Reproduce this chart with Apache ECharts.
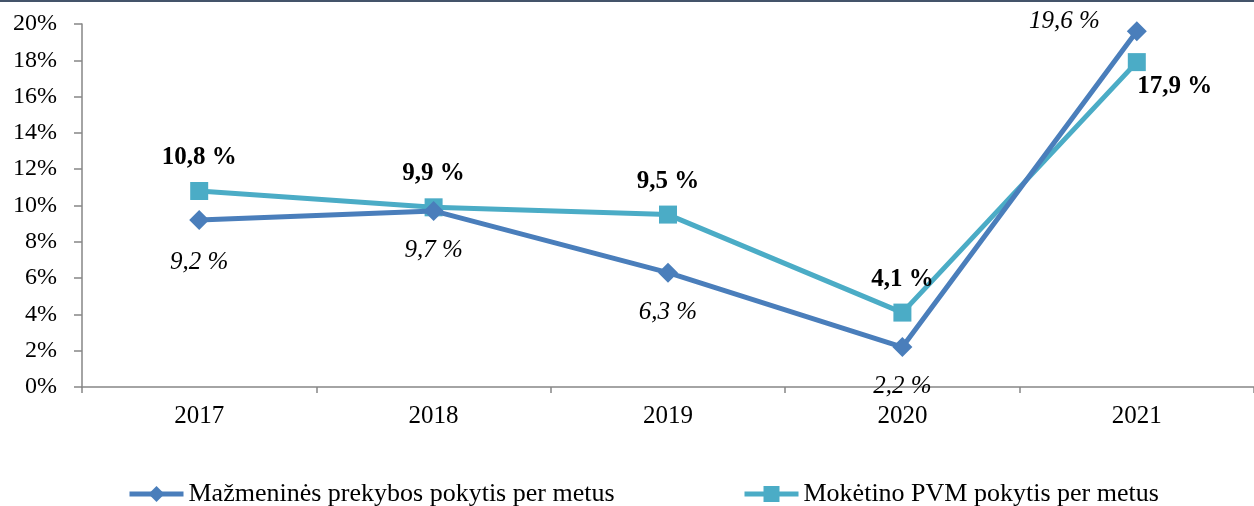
<!DOCTYPE html>
<html><head><meta charset="utf-8">
<script src="https://cdn.jsdelivr.net/npm/echarts@6/dist/echarts.min.js"></script>
<style>html,body{margin:0;padding:0;background:#fff}#c{width:1254px;height:506px}</style>
</head><body><div id="c"></div>
<script>
const categories = ['2017','2018','2019','2020','2021'];
const retailName = 'Mažmeninės prekybos pokytis per metus';
const vatName = 'Mokėtino PVM pokytis per metus';
const retailValues = [9.2, 9.7, 6.3, 2.2, 19.6];
const vatValues = [10.8, 9.9, 9.5, 4.1, 17.9];
const yTicks = [0, 2, 4, 6, 8, 10, 12, 14, 16, 18, 20];

const FONT = '"Liberation Serif", "Times New Roman", serif';
const fmt = v => String(v).replace('.', ',') + ' %';

// label placement overrides (layout only)
const retailLabelPos = [{distance: 20}, {}, {}, {}, {position: 'left', distance: 27, offset: [0, -10]}];
const vatLabelPos = [{}, {}, {}, {}, {position: 'bottom', distance: 3, offset: [38, 0]}];

const legendCommon = {top: 476, itemWidth: 54, itemHeight: 20, itemGap: 0,
  lineStyle: {width: 5}, textStyle: {fontFamily: FONT, fontSize: 26, color: '#000'}};

const chart = echarts.init(document.getElementById('c'), null, {renderer: 'canvas'});
chart.setOption({
  animation: false,
  textStyle: {fontFamily: FONT},
  graphic: [{type: 'rect', shape: {x: 0, y: 0, width: 1254, height: 2}, style: {fill: '#44546A'}}],
  grid: {left: 82, right: -3, top: 24, bottom: 119, containLabel: false},
  legend: [
    Object.assign({data: [retailName], left: 122}, legendCommon),
    Object.assign({data: [vatName], left: 737}, legendCommon)
  ],
  xAxis: {
    type: 'category', data: categories, boundaryGap: true,
    axisLine: {lineStyle: {color: '#868686', width: 1.5}},
    axisTick: {show: true, length: 6, lineStyle: {color: '#868686', width: 1.5}},
    axisLabel: {fontFamily: FONT, fontSize: 25, color: '#000', margin: 17},
    splitLine: {show: false}
  },
  yAxis: {
    type: 'value', min: yTicks[0], max: yTicks[yTicks.length - 1], interval: 2,
    axisLine: {show: true, lineStyle: {color: '#868686', width: 1.5}},
    axisTick: {show: true, length: 8, lineStyle: {color: '#868686', width: 1.5}},
    axisLabel: {fontFamily: FONT, fontSize: 24, color: '#000', margin: 25, formatter: v => v + '%'},
    splitLine: {show: false}
  },
  series: [
    {
      name: retailName, type: 'line', z: 3,
      data: retailValues.map((v, i) => ({value: v, label: retailLabelPos[i]})),
      symbol: 'diamond', symbolSize: 20,
      lineStyle: {color: '#4A7EBB', width: 5},
      itemStyle: {color: '#4A7EBB'},
      label: {show: true, position: 'bottom', distance: 17, fontFamily: FONT, fontSize: 25,
              fontStyle: 'italic', color: '#000', formatter: p => fmt(p.value)}
    },
    {
      name: vatName, type: 'line', z: 2,
      data: vatValues.map((v, i) => ({value: v, label: vatLabelPos[i]})),
      symbol: 'rect', symbolSize: 18,
      lineStyle: {color: '#4BACC6', width: 5},
      itemStyle: {color: '#4BACC6'},
      label: {show: true, position: 'top', distance: 12, fontFamily: FONT, fontSize: 25,
              fontWeight: 'bold', color: '#000', formatter: p => fmt(p.value)}
    }
  ]
});
</script></body></html>
